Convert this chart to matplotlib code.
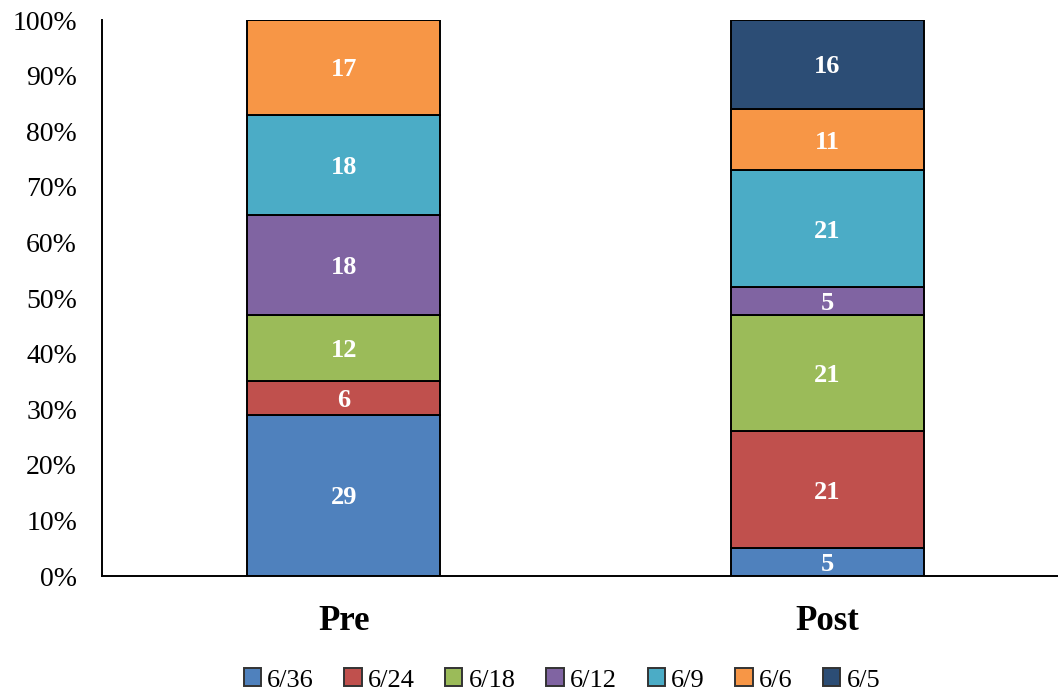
import matplotlib.pyplot as plt
import numpy as np

plt.rcParams['font.family'] = ['Liberation Serif', 'DejaVu Serif']

# stacked shares per group, bottom to top
groups = ['Pre', 'Post']
series = ['6/36', '6/24', '6/18', '6/12', '6/9', '6/6', '6/5']
pre = [29, 6, 12, 18, 18, 17, 0]
post = [5, 21, 21, 5, 21, 11, 16]
colors = ['#4F81BD', '#C0504D', '#9BBB59', '#8064A2', '#4BACC6', '#F79646', '#2C4D75']

vals = np.array([pre, post], dtype=float)
shares = vals / vals.sum(axis=1, keepdims=True)

fig = plt.figure(figsize=(10.58, 6.97), dpi=100)
ax = fig.add_axes([102/1058, 121/697, 1 - 102/1058, 556/697])

x = np.arange(len(groups))
bottom = np.zeros(len(groups))
for i, name in enumerate(series):
    h = shares[:, i]
    ax.bar(x, h, 0.4, bottom=bottom, color=colors[i], edgecolor='black',
           linewidth=1.4, label=name)
    for j in range(len(groups)):
        if vals[j, i] > 0:
            ax.text(x[j], bottom[j] + h[j] / 2, '%d' % vals[j, i], ha='center',
                    va='center_baseline', color='white', fontsize=19, fontweight='bold')
    bottom += h

ax.set_xlim(-0.5, 1.477)
ax.set_ylim(0, 1)
ax.set_yticks(np.arange(0, 1.01, 0.1))
ax.set_yticklabels(['%d%%' % v for v in range(0, 101, 10)], fontsize=20)
ax.set_xticks(x)
ax.set_xticklabels(groups, fontsize=25, fontweight='bold')
ax.tick_params(axis='both', length=0)
ax.tick_params(axis='y', pad=18)
ax.tick_params(axis='x', pad=21)
for s in ['top', 'right']:
    ax.spines[s].set_visible(False)
ax.spines['left'].set_linewidth(1.4)
ax.spines['bottom'].set_linewidth(1.4)

leg = ax.legend(loc='center', bbox_to_anchor=(562/1058, 17/697), bbox_transform=fig.transFigure,
                ncol=7, frameon=False, fontsize=19, handlelength=0.65, handleheight=0.65,
                handletextpad=0.25, columnspacing=1.15)
for p in leg.get_patches():
    p.set_edgecolor('#333333')

fig.savefig('out.png', dpi=100)
